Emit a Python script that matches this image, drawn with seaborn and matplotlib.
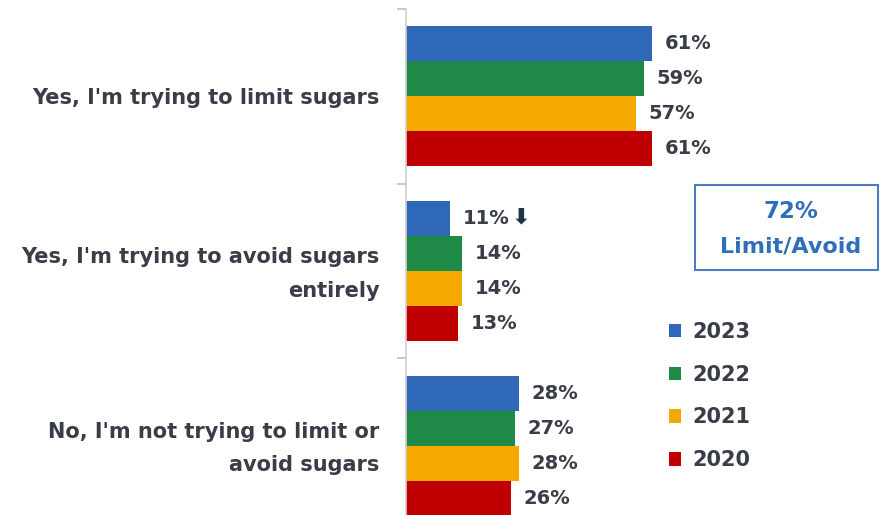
import matplotlib
matplotlib.use("Agg")
import matplotlib.pyplot as plt
import matplotlib.transforms as mtransforms
import seaborn as sns
import pandas as pd
from matplotlib.patches import Patch, Rectangle

categories = ["Yes, I'm trying to limit sugars",
              "Yes, I'm trying to avoid sugars\nentirely",
              "No, I'm not trying to limit or\navoid sugars"]
years = ["2023", "2022", "2021", "2020"]
v2023 = [61, 11, 28]
v2022 = [59, 14, 27]
v2021 = [57, 14, 28]
v2020 = [61, 13, 26]
colors = ["#2F68B6", "#1F8A47", "#F5A800", "#C00000"]
callout_value = "72%"
callout_label = "Limit/Avoid"

rows = []
for y, vals in zip(years, [v2023, v2022, v2021, v2020]):
    for c, v in zip(categories, vals):
        rows.append(dict(category=c, year=y, value=v))
df = pd.DataFrame(rows)

sns.set_style("white")
plt.rcParams['font.family'] = ['DejaVu Sans']
text_color = "#383D47"

fig = plt.figure(figsize=(8.81, 5.15), dpi=100)
ax = fig.add_axes([406/881, -18/515, 403/881, 524/515])
sns.barplot(data=df, y="category", x="value", hue="year", hue_order=years,
            order=categories, palette=colors, saturation=1, width=0.8,
            linewidth=0, ax=ax, legend=False, orient='h')
ax.set_xlim(0, 100)
ax.set_ylim(2.5, -0.5)
ax.set_xlabel("")
ax.set_ylabel("")
ax.set_xticks([])
for s in ["top", "right", "bottom"]:
    ax.spines[s].set_visible(False)
ax.spines["left"].set_color("#D0D0D0")
ax.spines["left"].set_linewidth(1.2)

ax.set_yticks(range(len(categories)))
ax.set_yticklabels(categories, fontsize=15, fontweight='bold', color=text_color)
ax.set_yticks([-0.5, 0.5, 1.5], minor=True)
ax.tick_params(axis='y', which='major', length=0, pad=19)
ax.tick_params(axis='y', which='minor', length=6.5, color="#BFBFBF", width=1.2, direction='out', left=True)
shift = mtransforms.ScaledTranslation(0, 0.06, fig.dpi_scale_trans)
for lbl in ax.get_yticklabels():
    lbl.set_linespacing(1.85)
    lbl.set_multialignment('right')
    if "\n" in lbl.get_text():
        lbl.set_transform(lbl.get_transform() + shift)

for cont, vals in zip(ax.containers, [v2023, v2022, v2021, v2020]):
    ax.bar_label(cont, labels=[f"{v}%" for v in vals], padding=9,
                 fontsize=14, fontweight='bold', color=text_color)

# down arrow next to 11%
ax.annotate("\u2B07", xy=(v2023[1], 1 - 0.3), xytext=(51, 1), textcoords='offset points',
            ha='center', va='center', fontsize=16, fontweight='bold', color="#1F3349")

# callout box
fig.patches.append(Rectangle((695/881, 1-270/515), 183/881, 85/515,
                             transform=fig.transFigure, fill=False,
                             edgecolor="#4A7CC4", linewidth=1.5))
fig.text(791/881, 1-212/515, callout_value, ha='center', va='center',
         fontsize=16.5, fontweight='bold', color="#2F6EBA")
fig.text(791/881, 1-246/515, callout_label, ha='center', va='center',
         fontsize=16, fontweight='bold', color="#2F6EBA")

handles = [Patch(facecolor=c, edgecolor='none') for c in colors]
fig.legend(handles, years, loc='center left', bbox_to_anchor=(650/881, 1-396/515),
           frameon=False, handlelength=0.6, handleheight=0.6, handletextpad=0.55,
           labelspacing=1.1, prop=dict(size=15, weight='bold'), labelcolor=text_color)

fig.savefig("out.png", dpi=100)
